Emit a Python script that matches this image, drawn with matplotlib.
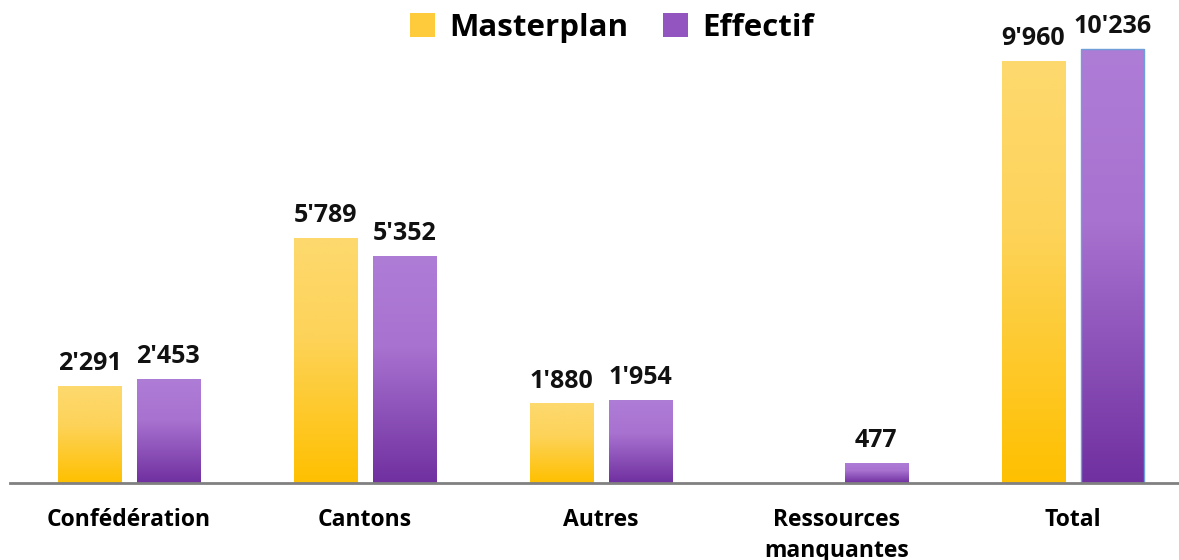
import matplotlib.pyplot as plt
import numpy as np
from matplotlib.colors import LinearSegmentedColormap
from matplotlib.patches import Patch

categories = ["Confédération", "Cantons", "Autres", "Ressources\nmanquantes", "Total"]
masterplan = [2291, 5789, 1880, None, 9960]
effectif = [2453, 5352, 1954, 477, 10236]
series_names = ["Masterplan", "Effectif"]

plt.rcParams['font.family'] = ['Open Sans', 'DejaVu Sans']

yellow = LinearSegmentedColormap.from_list("y", [(0, "#FFC000"), (0.6, "#FDD35A"), (1, "#FDD96E")])
purple = LinearSegmentedColormap.from_list("p", [(0, "#7030A0"), (0.6, "#A872D0"), (1, "#AE7DD6")])


def fmt(v):
    return f"{v:,}".replace(",", "'")


fig = plt.figure(figsize=(11.79, 5.6), dpi=100)
ax = fig.add_axes([10 / 1179, 77 / 560, 1169 / 1179, 483 / 560])

x = np.arange(len(categories))
w = 0.267
off = 0.167
grad = np.linspace(1, 0, 256).reshape(-1, 1)

for vals, dx, cmap, name in [(masterplan, -off, yellow, series_names[0]),
                              (effectif, off, purple, series_names[1])]:
    for xi, v in zip(x, vals):
        if v is None:
            continue
        bar = ax.bar(xi + dx, v, w, color='none', edgecolor='none')[0]
        im = ax.imshow(grad, cmap=cmap, vmin=0, vmax=1, aspect='auto',
                       extent=[xi + dx - w / 2, xi + dx + w / 2, 0, v], zorder=2)
        im.set_clip_path(bar)
        ax.text(xi + dx, v + 230, fmt(v), ha='center', va='bottom',
                fontsize=18, fontweight='bold', color='#111111')

# thin blue outline on the Total effectif bar, as in the original
ax.bar(x[-1] + off, effectif[-1], w, color='none', edgecolor='#6F9FD8', linewidth=1, zorder=3)

ax.set_xlim(-0.504, 4.45)
ax.set_ylim(0, 11390)
ax.set_xticks(x)
ax.set_xticklabels(categories, fontsize=16.5, fontweight='bold', linespacing=1.4)
ax.tick_params(axis='x', length=0, pad=18)
ax.set_yticks([])
for s in ['top', 'right', 'left']:
    ax.spines[s].set_visible(False)
ax.spines['bottom'].set_color('#808080')
ax.spines['bottom'].set_linewidth(2)
ax.spines['bottom'].set_zorder(5)

handles = [Patch(facecolor="#FDCB3C"), Patch(facecolor="#9355C0")]
fig.legend(handles, series_names, loc='center', bbox_to_anchor=(612 / 1179, 1 - 28 / 560),
           ncol=2, frameon=False, prop={'size': 22.5, 'weight': 'bold'},
           handlelength=0.8, handleheight=0.8, handletextpad=0.45, columnspacing=1.1)

fig.savefig("out.png", dpi=100)
